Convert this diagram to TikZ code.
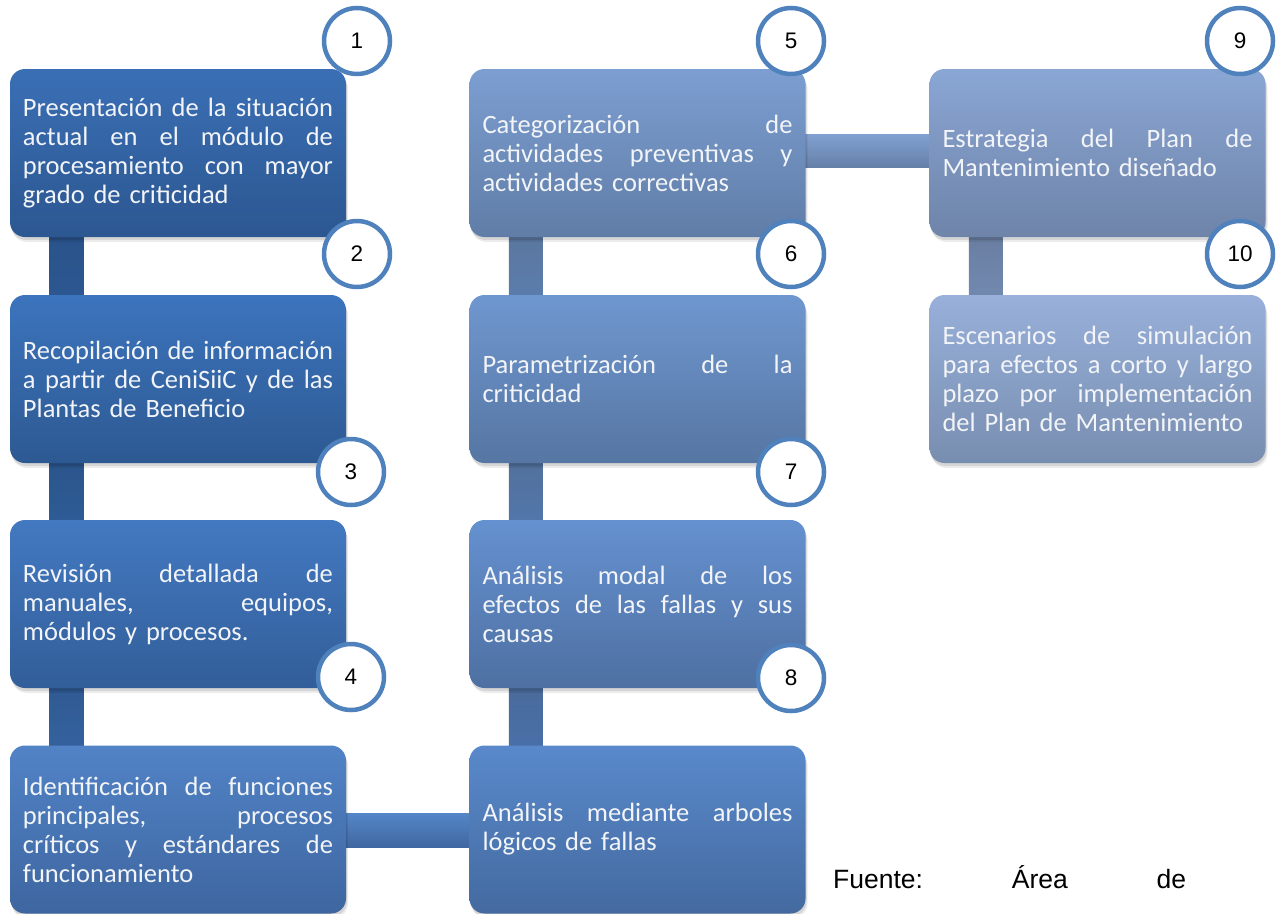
\documentclass[tikz,border=0pt]{standalone}
\usepackage{fontspec}
\setmainfont{Carlito}
\newfontfamily\arialf{Liberation Sans}
\usetikzlibrary{shadows}
\pgfdeclarelayer{bg}
\pgfsetlayers{bg,main}
\definecolor{numc}{RGB}{79,129,189}
\definecolor{txt}{RGB}{242,244,248}
\definecolor{t1}{RGB}{58,111,181}\definecolor{u1}{RGB}{44,87,145}
\definecolor{t2}{RGB}{60,116,189}\definecolor{u2}{RGB}{45,89,146}
\definecolor{t3}{RGB}{67,121,193}\definecolor{u3}{RGB}{50,94,153}
\definecolor{t4}{RGB}{81,131,198}\definecolor{u4}{RGB}{62,102,160}
\definecolor{t8}{RGB}{89,137,203}\definecolor{u8}{RGB}{68,106,160}
\definecolor{t7}{RGB}{101,145,208}\definecolor{u7}{RGB}{78,112,162}
\definecolor{t6}{RGB}{111,151,207}\definecolor{u6}{RGB}{86,118,163}
\definecolor{t5}{RGB}{124,158,209}\definecolor{u5}{RGB}{96,125,167}
\definecolor{t9}{RGB}{138,166,212}\definecolor{u9}{RGB}{110,132,169}
\definecolor{t10}{RGB}{152,176,218}\definecolor{u10}{RGB}{120,142,176}
\newcommand{\jl}[1]{\leavevmode\hbox to 310pt{#1}}
\newcommand{\gap}{\hskip 0pt plus 1fill\relax}
\begin{document}
\begin{tikzpicture}[x=1pt,y=-1pt,
  box/.style n args={2}{rounded corners=15pt, minimum width=336pt, minimum height=168pt,
    inner sep=0pt, text width=310pt, align=left, text=txt,
    font=\fontsize{26.5}{29}\selectfont, top color=#1, bottom color=#2,
    drop shadow={shadow xshift=1pt,shadow yshift=-3pt,opacity=.10,fill=black},
    drop shadow={shadow xshift=2pt,shadow yshift=-5pt,opacity=.07,fill=black}},
  num/.style={circle, draw=numc, line width=4.5pt, fill=white, minimum size=66pt,
    inner sep=0pt, font=\arialf\fontsize{22.5}{22.5}\selectfont},
  vbar/.style n args={2}{top color=#1, bottom color=#2},
  hbar/.style n args={2}{top color=#1, bottom color=#2}]
\useasboundingbox (0,0) rectangle (1282,913);
% column 1
\node[box={t1}{u1}] (b1) at (178,153) {\jl{Presentación\gap de\gap la\gap situación}\\\jl{actual\gap en\gap el\gap módulo\gap de}\\\jl{procesamiento\gap con\gap mayor}\\grado de criticidad};
\node[box={t2}{u2}] (b2) at (178,379) {\jl{Recopilación\gap de\gap información}\\\jl{a\gap partir\gap de\gap CeniSiiC\gap y\gap de\gap las}\\Plantas de Beneficio};
\node[box={t3}{u3}] (b3) at (178,604) {\jl{Revisión\gap detallada\gap de}\\\jl{manuales,\gap equipos,}\\módulos y procesos.};
\node[box={t4}{u4}] (b4) at (178,829.5) {\jl{Identificación\gap de\gap funciones}\\\jl{principales,\gap procesos}\\\jl{críticos\gap y\gap estándares\gap de}\\funcionamiento};
% column 2
\node[box={t5}{u5}] (b5) at (637.5,153) {\jl{Categorización\gap de}\\\jl{actividades\gap preventivas\gap y}\\actividades correctivas};
\node[box={t6}{u6}] (b6) at (637.5,379) {\jl{Parametrización\gap de\gap la}\\criticidad};
\node[box={t7}{u7}] (b7) at (637.5,604) {\jl{Análisis\gap modal\gap de\gap los}\\\jl{efectos\gap de\gap las\gap fallas\gap y\gap sus}\\causas};
\node[box={t8}{u8}] (b8) at (637.5,829.5) {\jl{Análisis\gap mediante\gap arboles}\\lógicos de fallas};
% column 3
\node[box={t9}{u9}] (b9) at (1097.5,153) {\jl{Estrategia\gap del\gap Plan\gap de}\\Mantenimiento diseñado};
\node[box={t10}{u10}] (b10) at (1097.5,379) {\jl{Escenarios\gap de\gap simulación}\\\jl{para\gap efectos\gap a\gap corto\gap y\gap largo}\\\jl{plazo\gap por\gap implementación}\\del Plan de Mantenimiento};
% connectors
\begin{pgfonlayer}{bg}
\fill[vbar={u1!95!black}{u1}] ([xshift=39.5pt,yshift=5pt]b1.south west) rectangle ([xshift=73.5pt,yshift=-5pt]b2.north west);
\fill[vbar={u2!95!black}{u2!90!t2}] ([xshift=39.5pt,yshift=5pt]b2.south west) rectangle ([xshift=73.5pt,yshift=-5pt]b3.north west);
\fill[vbar={u3!95!black}{u3!85!t3}] ([xshift=39.5pt,yshift=5pt]b3.south west) rectangle ([xshift=73.5pt,yshift=-5pt]b4.north west);
\fill[hbar={t4!60!t8}{u4!60!u8}] ([xshift=-5pt,yshift=16.5pt]b4.east) rectangle ([xshift=5pt,yshift=-17.5pt]b8.west);
\fill[vbar={u7!95!black}{u8!80!t8}] ([xshift=39.5pt,yshift=-5pt]b8.north west) rectangle ([xshift=73.5pt,yshift=5pt]b7.south west);
\fill[vbar={u6!95!black}{u7!80!t7}] ([xshift=39.5pt,yshift=-5pt]b7.north west) rectangle ([xshift=73.5pt,yshift=5pt]b6.south west);
\fill[vbar={u5!95!black}{u6!80!t6}] ([xshift=39.5pt,yshift=-5pt]b6.north west) rectangle ([xshift=73.5pt,yshift=5pt]b5.south west);
\fill[hbar={t5!60!t9}{u5!60!u9}] ([xshift=-5pt,yshift=19pt]b5.east) rectangle ([xshift=5pt,yshift=-14pt]b9.west);
\fill[vbar={u9!95!black}{u9!85!t9}] ([xshift=39.5pt,yshift=5pt]b9.south west) rectangle ([xshift=73.5pt,yshift=-5pt]b10.north west);
\end{pgfonlayer}
% number circles
\node[num] (c1) at (357,41) {1};
\node[num] (c2) at (357,254) {2};
\node[num] (c3) at (351,472) {3};
\node[num] (c4) at (351,677) {4};
\node[num] (c5) at (791,41) {5};
\node[num] (c6) at (791,254) {6};
\node[num] (c7) at (791,472) {7};
\node[num] (c8) at (791,678) {8};
\node[num] (c9) at (1240,41) {9};
\node[num] (c10) at (1240,254) {10};
% source line
\node[anchor=base west, inner sep=0pt, font=\arialf\fontsize{26.5}{30}\selectfont] (src) at (833,888) {\hbox to 353pt{Fuente:\gap Área\gap de}};
\end{tikzpicture}
\end{document}
